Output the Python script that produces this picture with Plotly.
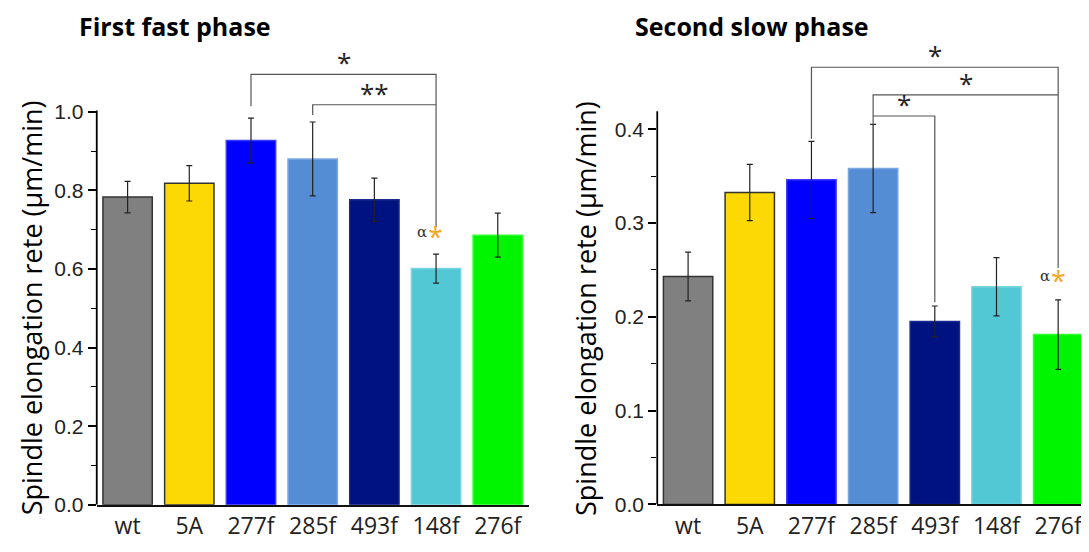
import plotly.graph_objects as go

categories = ["wt", "5A", "277f", "285f", "493f", "148f", "276f"]
colors = ["#808080", "#FCD905", "#0000FF", "#548DD4", "#00127F", "#52C8D5", "#00F500"]
borders = ["#333333", "#333333", "#3A3AFF", "#7AA6E0", "#1A2A90", "#7AD6E0", "#30FF30"]

fast_vals = [0.783, 0.818, 0.927, 0.880, 0.776, 0.601, 0.686]
fast_err = [0.040, 0.045, 0.057, 0.094, 0.055, 0.037, 0.056]

slow_vals = [0.243, 0.3325, 0.346, 0.358, 0.195, 0.232, 0.181]
slow_err = [0.026, 0.030, 0.041, 0.047, 0.0165, 0.031, 0.037]

fast_ticks = [0.0, 0.2, 0.4, 0.6, 0.8, 1.0]
fast_minor = [0.1, 0.3, 0.5, 0.7, 0.9]
slow_ticks = [0.0, 0.1, 0.2, 0.3, 0.4]
slow_minor = [0.05, 0.15, 0.25, 0.35]

# significance brackets: (x points, y points)
fast_brackets = [
    (["277f", "277f", "148f", "148f"], [1.014, 1.0955, 1.0955, 0.7065]),
    (["285f", "285f", "148f"], [0.992, 1.018, 1.018]),
]
fast_stars = [(3.5, 1.0955, "*"), (4.0, 1.018, "**")]

slow_brackets = [
    (["277f", "277f", "276f", "276f"], [0.3896, 0.466, 0.466, 0.252]),
    (["285f", "285f", "276f"], [0.405, 0.4366, 0.4366]),
    (["285f", "493f", "493f"], [0.414, 0.414, 0.2156]),
]
slow_stars = [(4.0, 0.466, "*"), (4.5, 0.4366, "*"), (3.5, 0.414, "*")]

fig = go.Figure()

fig.add_trace(go.Bar(
    x=categories, y=fast_vals, xaxis="x", yaxis="y",
    marker=dict(color=colors, line=dict(color=borders, width=1.5)),
    error_y=dict(type="data", array=fast_err, color="#222222", thickness=1.2, width=3),
    showlegend=False,
))
fig.add_trace(go.Bar(
    x=categories, y=slow_vals, xaxis="x2", yaxis="y2",
    marker=dict(color=colors, line=dict(color=borders, width=1.5)),
    error_y=dict(type="data", array=slow_err, color="#222222", thickness=1.2, width=3),
    showlegend=False,
))

for bx, by in fast_brackets:
    fig.add_trace(go.Scatter(x=bx, y=by, xaxis="x", yaxis="y", mode="lines",
                             line=dict(color="#555555", width=1.2), showlegend=False,
                             hoverinfo="skip"))
for bx, by in slow_brackets:
    fig.add_trace(go.Scatter(x=bx, y=by, xaxis="x2", yaxis="y2", mode="lines",
                             line=dict(color="#555555", width=1.2), showlegend=False,
                             hoverinfo="skip"))

star_font = dict(family="Open Sans", size=26, color="#222222")
annotations = []
for sx, sy, txt in fast_stars:
    annotations.append(dict(x=sx, y=sy, xref="x", yref="y", text=txt, showarrow=False,
                            yshift=12, font=star_font))
for sx, sy, txt in slow_stars:
    annotations.append(dict(x=sx, y=sy, xref="x2", yref="y2", text=txt, showarrow=False,
                            yshift=12, font=star_font))

# alpha + orange star markers
alpha_font = dict(family="DejaVu Serif", size=15, color="#333333")
orange_font = dict(family="Open Sans", size=27, color="#F5A623")
annotations += [
    dict(x="148f", y=0.693, xref="x", yref="y", text="α", showarrow=False, xshift=-14,
         font=alpha_font),
    dict(x="148f", y=0.6815, xref="x", yref="y", text="*", showarrow=False, xshift=-1,
         font=orange_font),
    dict(x="276f", y=0.244, xref="x2", yref="y2", text="α", showarrow=False, xshift=-13,
         font=alpha_font),
    dict(x="276f", y=0.239, xref="x2", yref="y2", text="*", showarrow=False, xshift=0,
         font=orange_font),
]

# titles and axis labels
annotations += [
    dict(x=0.1548, y=0.966, xref="paper", yref="paper", text="<b>First fast phase</b>",
         showarrow=False, xanchor="center", yanchor="middle",
         font=dict(family="Open Sans", size=25, color="black")),
    dict(x=0.688, y=0.966, xref="paper", yref="paper", text="<b>Second slow phase</b>",
         showarrow=False, xanchor="center", yanchor="middle",
         font=dict(family="Open Sans", size=25, color="black")),
    dict(x=0.0213, y=0.4366, xref="paper", yref="paper", text="Spindle elongation rete (μm/min)",
         showarrow=False, textangle=-90, xanchor="center", yanchor="middle",
         font=dict(family="Open Sans", size=27, color="black")),
    dict(x=0.5344, y=0.4366, xref="paper", yref="paper", text="Spindle elongation rete (μm/min)",
         showarrow=False, textangle=-90, xanchor="center", yanchor="middle",
         font=dict(family="Open Sans", size=27, color="black")),
]

shapes = [
    dict(type="line", xref="x domain", yref="y", x0=0, x1=0, y0=0, y1=1.003,
         line=dict(color="black", width=1.8)),
    dict(type="line", xref="x2 domain", yref="y2", x0=0, x1=0, y0=0, y1=0.419,
         line=dict(color="black", width=1.8)),
]

xcommon = dict(type="category", showline=True, linecolor="#111111", linewidth=2, ticks="",
               showgrid=False, zeroline=False,
               tickfont=dict(family="Open Sans", size=23, color="#222222"))
ycommon = dict(showline=False, ticks="outside", ticklen=8, tickwidth=1.5, tickcolor="black",
               showgrid=False, zeroline=False,
               tickfont=dict(family="Liberation Sans", size=21, color="#222222"))

fig.update_layout(
    width=1081, height=544,
    margin=dict(l=0, r=0, t=0, b=0),
    paper_bgcolor="white", plot_bgcolor="white",
    bargap=0.2,
    xaxis=dict(xcommon, domain=[0.0821, 0.4816], range=[-0.5, 6.5], anchor="y"),
    yaxis=dict(ycommon, domain=[0.0680, 0.9232], range=[0, 1.16], anchor="x",
               tickvals=fast_ticks, ticktext=[f"{v:.1f}" for v in fast_ticks],
               minor=dict(tickvals=fast_minor, ticks="outside", ticklen=5, tickwidth=1.2,
                          tickcolor="black")),
    xaxis2=dict(xcommon, domain=[0.6006, 1.0], range=[-0.5, 6.5], anchor="y2"),
    yaxis2=dict(ycommon, domain=[0.0686, 0.9311], range=[0, 0.49], anchor="x2",
                tickvals=slow_ticks, ticktext=[f"{v:.1f}" for v in slow_ticks],
                minor=dict(tickvals=slow_minor, ticks="outside", ticklen=5, tickwidth=1.2,
                           tickcolor="black")),
    annotations=annotations,
    shapes=shapes,
)

fig.write_html("out.html")
